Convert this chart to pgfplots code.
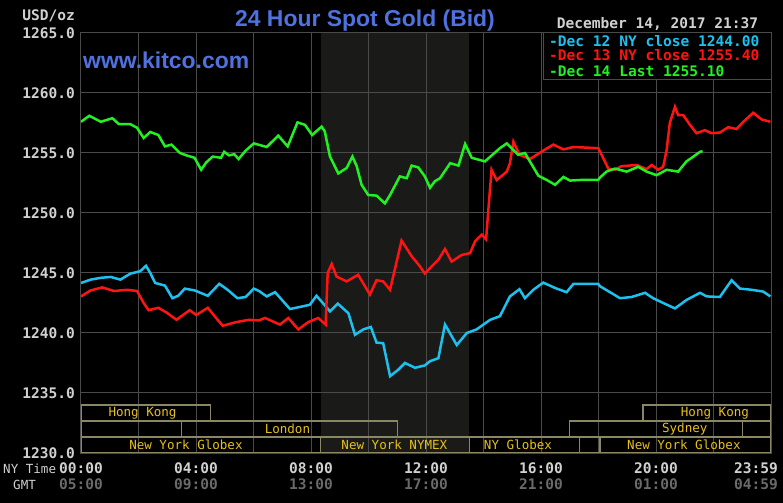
\documentclass[border=0pt]{standalone}
\usepackage{pgfplots}
\pgfplotsset{compat=1.18}
\usepackage{fontspec}
\setmainfont{Liberation Sans}
\setmonofont{DejaVu Sans Mono}
\definecolor{gridc}{HTML}{4A4A4A}
\definecolor{shadec}{HTML}{1A1B18}
\definecolor{cyanc}{HTML}{1EC0EE}
\definecolor{redc}{HTML}{FF1414}
\definecolor{greenc}{HTML}{22F022}
\definecolor{titlec}{HTML}{4F72E0}
\definecolor{sessb}{HTML}{8A8862}
\definecolor{sesst}{HTML}{E8C018}
\definecolor{tickc}{HTML}{D0D0D0}
\definecolor{gmtc}{HTML}{6A6A6A}
\newcommand{\tfont}{\ttfamily\bfseries\fontsize{14.6}{15}\selectfont}
\newcommand{\sfont}{\ttfamily\fontsize{12.6}{13}\selectfont}
\begin{document}
\begin{tikzpicture}
\fill[black] (-81bp,-50bp) rectangle (702bp,453bp);
\path[use as bounding box] (-81bp,-50bp) rectangle (702bp,453bp);
\begin{axis}[
  at={(0bp,0bp)}, anchor=south west,
  scale only axis, width=690bp, height=420bp,
  xmin=0, xmax=24, ymin=1230, ymax=1265,
  axis line style={gridc, line width=1bp},
  xtick={0,2,...,24}, xticklabels={},
  ytick={1230,1235,1240,1245,1250,1255,1260,1265},
  yticklabels={1230.0,1235.0,1240.0,1245.0,1250.0,1255.0,1260.0,1265.0},
  tick style={draw=none},
  yticklabel style={font=\tfont, text=tickc, inner sep=0pt, xshift=-6bp},
]
\addplot[draw=none, fill=shadec] coordinates {(8.333,1230)(13.5,1230)(13.5,1265)(8.333,1265)} -- cycle;
\foreach \g in {2,4,...,22}{
  \edef\tmp{\noexpand\draw[gridc, line width=1bp] (axis cs:\g,1230) -- (axis cs:\g,1265);}\tmp
}
\foreach \g in {1235,1240,...,1260}{
  \edef\tmp{\noexpand\draw[gridc, line width=1bp] (axis cs:0,\g) -- (axis cs:24,\g);}\tmp
}
% sessions
\draw[sessb, line width=1.2bp] (axis cs:0,1232.667) rectangle (axis cs:4.5,1234);
\draw[sessb, line width=1.2bp] (axis cs:19.55,1232.667) rectangle (axis cs:24,1234);
\draw[sessb, line width=1.2bp] (axis cs:0,1231.333) rectangle (axis cs:3.5,1232.667);
\draw[sessb, line width=1.2bp] (axis cs:3.5,1231.333) rectangle (axis cs:11,1232.667);
\draw[sessb, line width=1.2bp] (axis cs:17,1231.333) rectangle (axis cs:23,1232.667);
\draw[sessb, line width=1.2bp] (axis cs:23,1231.333) rectangle (axis cs:24,1232.667);
\draw[sessb, line width=1.2bp] (axis cs:0,1230) rectangle (axis cs:8.333,1231.333);
\draw[sessb, line width=1.2bp] (axis cs:8.333,1230) rectangle (axis cs:13.5,1231.333);
\draw[sessb, line width=1.2bp] (axis cs:13.5,1230) rectangle (axis cs:17.35,1231.333);
\draw[sessb, line width=1.2bp] (axis cs:17.35,1230) rectangle (axis cs:18.05,1231.333);
\draw[sessb, line width=1.2bp] (axis cs:18.05,1230) rectangle (axis cs:24,1231.333);
\node[text=sesst, font=\sfont] at (axis cs:2.14,1233.333) {Hong Kong};
\node[text=sesst, font=\sfont] at (axis cs:22.05,1233.333) {Hong Kong};
\node[text=sesst, font=\sfont] at (axis cs:7.18,1232) {London};
\node[text=sesst, font=\sfont] at (axis cs:21,1232) {Sydney};
\node[text=sesst, font=\sfont] at (axis cs:3.65,1230.667) {New York Globex};
\node[text=sesst, font=\sfont] at (axis cs:10.9,1230.667) {New York NYMEX};
\node[text=sesst, font=\sfont] at (axis cs:15.2,1230.667) {NY Globex};
\node[text=sesst, font=\sfont] at (axis cs:20.97,1230.667) {New York Globex};
% Dec 12 (cyan)
\addplot[cyanc, line width=2.5bp] coordinates {
(0.00,1244.17)(0.34,1244.45)(0.69,1244.6)(1.03,1244.67)(1.37,1244.45)(1.72,1244.95)(2.06,1245.15)(2.26,1245.6)(2.41,1245.0)(2.58,1244.17)(2.92,1243.95)(3.18,1242.9)(3.38,1243.1)(3.61,1243.7)(3.95,1243.55)(4.41,1243.1)(4.81,1244.1)(5.1,1243.6)(5.44,1242.9)(5.73,1243.0)(6.01,1243.7)(6.19,1243.5)
(6.46,1243.05)(6.75,1243.4)(7.27,1242.0)(7.67,1242.2)(7.96,1242.35)(8.19,1243.1)(8.43,1242.45)(8.66,1241.8)(8.93,1242.45)(9.3,1241.65)(9.53,1239.85)(9.82,1240.3)(10.08,1240.5)(10.28,1239.2)(10.51,1239.15)(10.75,1236.4)(11.04,1236.95)(11.27,1237.5)(11.62,1237.1)(11.96,1237.3)
(12.14,1237.65)(12.43,1237.9)(12.66,1240.7)(13.07,1239.0)(13.42,1240.0)(13.76,1240.3)(14.23,1241.1)(14.57,1241.4)(14.92,1243.05)(15.25,1243.65)(15.44,1242.9)(15.73,1243.6)(16.08,1244.2)(16.49,1243.75)(16.89,1243.4)(17.13,1244.1)(17.99,1244.1)(18.05,1243.9)(18.4,1243.4)
(18.75,1242.9)(19.15,1243)(19.62,1243.35)(19.9,1242.9)(20.25,1242.5)(20.66,1242.05)(21.06,1242.75)(21.53,1243.35)(21.76,1243.05)(22.22,1243)(22.63,1244.4)(22.92,1243.7)(23.33,1243.6)(23.73,1243.45)(23.98,1243.05)
};
% Dec 13 (red)
\addplot[redc, line width=2.5bp] coordinates {
(0,1243.05)(0.34,1243.55)(0.74,1243.8)(1.15,1243.5)(1.6,1243.6)(1.95,1243.5)(2.18,1242.5)(2.35,1241.9)(2.69,1242.1)(2.98,1241.7)(3.32,1241.1)(3.78,1241.9)(4.01,1241.5)(4.41,1242.1)(4.7,1241.25)(4.93,1240.6)(5.38,1240.9)(5.84,1241.1)(6.19,1241.05)
(6.4,1241.25)(6.92,1240.7)(7.21,1241.25)(7.56,1240.3)(7.9,1240.9)(8.25,1241.25)(8.51,1240.7)(8.58,1245.0)(8.72,1245.75)(8.89,1244.7)(9.24,1244.3)(9.64,1244.85)(10.05,1243.2)(10.28,1244.4)(10.51,1244.3)(10.75,1243.6)(11.15,1247.7)(11.5,1246.4)(11.79,1245.55)(11.96,1244.95)
(12.14,1245.4)(12.43,1246.1)(12.66,1247.0)(12.89,1245.95)(13.24,1246.5)(13.53,1246.65)(13.71,1247.65)(13.94,1248.2)(14.09,1247.8)(14.17,1250.3)(14.28,1253.6)(14.46,1252.75)(14.81,1253.45)(14.92,1254.15)(15.04,1255.95)(15.25,1254.85)(15.62,1254.5)(16.08,1255.2)(16.43,1255.7)(16.78,1255.3)(17.13,1255.5)(17.99,1255.4)
(18.17,1254.55)(18.34,1253.7)(18.57,1253.6)(18.8,1253.9)(19.33,1254)(19.67,1253.65)(19.85,1254)(20.08,1253.6)(20.25,1253.85)(20.37,1255.25)(20.48,1257.5)(20.66,1258.85)(20.77,1258.15)(20.95,1258.15)(21.18,1257.35)(21.41,1256.65)(21.7,1256.9)(21.93,1256.65)(22.22,1256.7)(22.51,1257.15)(22.8,1257)(23.04,1257.6)(23.38,1258.35)(23.67,1257.8)(23.98,1257.6)
};
% Dec 14 (green)
\addplot[greenc, line width=2.5bp] coordinates {
(0.00,1257.6)(0.29,1258.1)(0.69,1257.6)(1.09,1257.9)(1.32,1257.4)(1.72,1257.4)(1.95,1257.1)(2.18,1256.25)(2.41,1256.75)(2.69,1256.5)(2.92,1255.55)(3.15,1255.7)(3.44,1255.0)(3.67,1254.8)(3.95,1254.6)(4.18,1253.6)(4.35,1254.2)(4.58,1254.7)(4.87,1254.6)(4.98,1255.1)(5.15,1254.8)(5.33,1254.9)(5.48,1254.5)(5.73,1255.2)(6.01,1255.8)
(6.46,1255.5)(6.86,1256.45)(7.19,1255.55)(7.53,1257.55)(7.79,1257.35)(8.04,1256.5)(8.37,1257.2)(8.48,1256.8)(8.66,1254.7)(8.95,1253.3)(9.24,1253.75)(9.44,1254.7)(9.59,1253.9)(9.76,1252.35)(9.99,1251.5)(10.28,1251.45)(10.57,1250.8)(10.75,1251.5)(11.09,1253.05)(11.33,1252.9)(11.5,1253.95)(11.73,1253.8)(11.96,1253.05)(12.14,1252.1)(12.31,1252.65)
(12.49,1252.9)(12.84,1254.15)(13.13,1253.95)(13.36,1255.75)(13.59,1254.6)(14.05,1254.3)(14.57,1255.4)(14.81,1255.8)(15.21,1254.85)(15.44,1255)(15.91,1253.1)(16.2,1252.75)(16.49,1252.35)(16.78,1253)(17.01,1252.7)(17.36,1252.75)(17.99,1252.75)(18.05,1252.95)(18.28,1253.45)
(18.57,1253.7)(18.98,1253.45)(19.38,1253.85)(19.67,1253.45)(20.02,1253.15)(20.37,1253.6)(20.77,1253.45)(21.06,1254.3)(21.3,1254.7)(21.53,1255.1)(21.62,1255.15)
};
\end{axis}
\begin{scope}[x=1bp,y=1bp]
% legend box
\draw[gridc, line width=1bp, fill=black] (462,373) rectangle (690,420);
\node[anchor=base west, font=\tfont, text=cyanc, inner sep=0pt] at (468,406) {-Dec 12 NY close 1244.00};
\node[anchor=base west, font=\tfont, text=redc, inner sep=0pt] at (468,392) {-Dec 13 NY close 1255.40};
\node[anchor=base west, font=\tfont, text=greenc, inner sep=0pt] at (468,377) {-Dec 14 Last 1255.10};
\node[anchor=base, font=\tfont, text=tickc, inner sep=0pt] at (576.5,424) {December 14, 2017 21:37};
% title and site
\node[anchor=base, text=titlec, inner sep=0pt, font=\bfseries\fontsize{23}{23}\selectfont] at (284,426) {24 Hour Spot Gold (Bid)};
\node[anchor=base west, text=titlec, inner sep=0pt, font=\bfseries\fontsize{23}{23}\selectfont] at (2,385) {www.kitco.com};
\node[anchor=base east, font=\tfont, text=tickc, inner sep=0pt] at (-6,432) {USD/oz};
% x tick labels
\node[anchor=base west, font=\sfont, text=tickc, inner sep=0pt] at (-78,-20) {NY Time};
\node[anchor=base west, font=\sfont, text=tickc, inner sep=0pt] at (-68,-36) {GMT};
\foreach \h/\a/\b in {0/00:00/05:00, 4/04:00/09:00, 8/08:00/13:00, 12/12:00/17:00, 16/16:00/21:00, 20/20:00/01:00}{
  \node[anchor=base, font=\tfont, text=tickc, inner sep=0pt] at (\h*28.75,-20) {\a};
  \node[anchor=base, font=\tfont, text=gmtc, inner sep=0pt] at (\h*28.75,-36) {\b};
}
\node[anchor=base east, font=\tfont, text=tickc, inner sep=0pt] at (697,-20) {23:59};
\node[anchor=base east, font=\tfont, text=gmtc, inner sep=0pt] at (697,-36) {04:59};
\end{scope}
\end{tikzpicture}
\end{document}
